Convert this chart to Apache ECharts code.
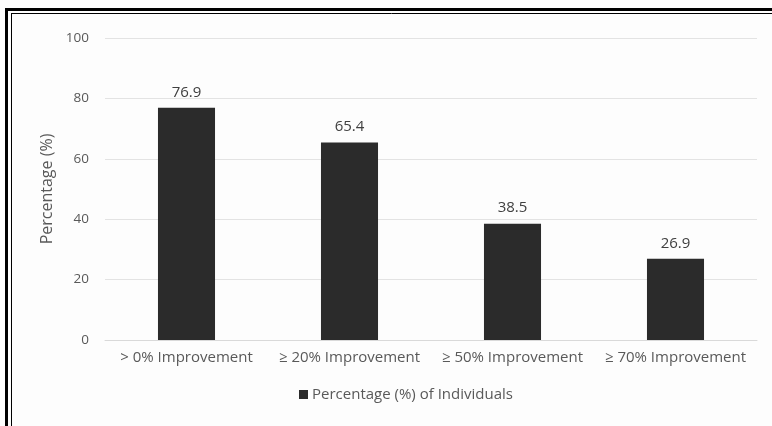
<!DOCTYPE html>
<html><head><meta charset="utf-8">
<script src="https://cdn.jsdelivr.net/npm/echarts@6/dist/echarts.min.js"></script>
<style>html,body{margin:0;padding:0;background:#fdfdfd}#c{width:772px;height:426px}</style>
</head><body><div id="c"></div>
<script>
const categories = ['> 0% Improvement', '≥ 20% Improvement', '≥ 50% Improvement', '≥ 70% Improvement'];
const values = [76.9, 65.4, 38.5, 26.9];
const seriesName = 'Percentage (%) of Individuals';
const yAxisName = 'Percentage (%)';

const chart = echarts.init(document.getElementById('c'), null, {renderer: 'canvas'});
const font = '"Open Sans", "Liberation Sans", sans-serif';
chart.setOption({
  backgroundColor: '#fdfdfd',
  animation: false,
  textStyle: {fontFamily: font},
  graphic: [
    {type: 'line', shape: {x1: 5, y1: 9.5, x2: 772, y2: 9.5}, style: {stroke: '#000', lineWidth: 3}},
    {type: 'line', shape: {x1: 6.5, y1: 8, x2: 6.5, y2: 426}, style: {stroke: '#000', lineWidth: 3}},
    {type: 'line', shape: {x1: 11, y1: 13.5, x2: 772, y2: 13.5}, style: {stroke: '#000', lineWidth: 1}},
    {type: 'line', shape: {x1: 11.5, y1: 13, x2: 11.5, y2: 426}, style: {stroke: '#000', lineWidth: 1}}
  ],
  legend: {
    bottom: 19, left: 294,
    itemWidth: 9, itemHeight: 9, icon: 'rect', itemGap: 4,
    textStyle: {color: '#595959', fontSize: 15, fontFamily: font, padding: [0, 0, 0, -1]}
  },
  grid: {left: 105, right: 15, top: 38, bottom: 86, containLabel: false},
  xAxis: {
    type: 'category', data: categories,
    axisLine: {lineStyle: {color: '#d9d9d9'}},
    axisTick: {show: false},
    axisLabel: {color: '#595959', fontSize: 15, margin: 10, interval: 0, hideOverlap: false}
  },
  yAxis: {
    type: 'value', min: 0, max: 100, interval: 20,
    name: yAxisName, nameLocation: 'middle', nameGap: 50,
    nameTextStyle: {color: '#595959', fontSize: 16},
    axisLine: {show: false}, axisTick: {show: false},
    axisLabel: {color: '#595959', fontSize: 13.5, margin: 16},
    splitLine: {lineStyle: {color: '#e3e3e3'}}
  },
  series: [{
    name: seriesName, type: 'bar', data: values,
    barWidth: '35%',
    itemStyle: {color: '#2b2b2b'},
    label: {show: true, position: 'top', distance: 8, color: '#404040', fontSize: 15,
      formatter: p => p.value.toFixed(1)}
  }]
});
</script></body></html>
